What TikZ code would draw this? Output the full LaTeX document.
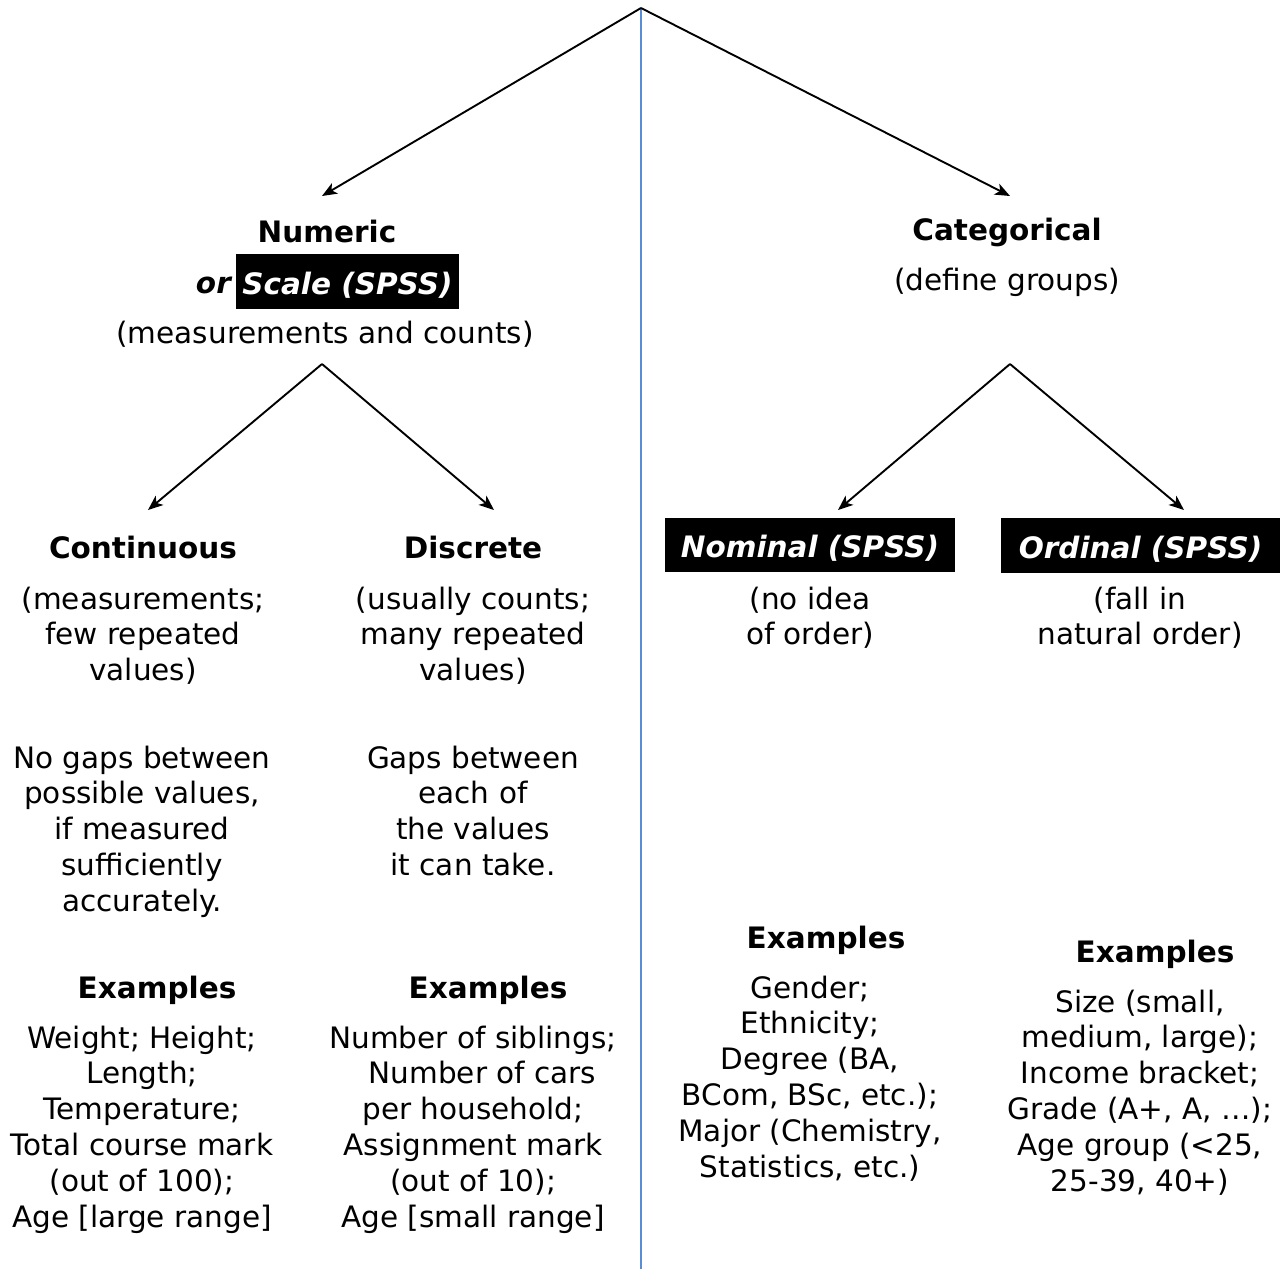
\documentclass[tikz,border=0pt]{standalone}
\usepackage{fontspec}
\setmainfont{DejaVu Sans}
\usetikzlibrary{arrows.meta}
\definecolor{divblue}{RGB}{91,141,213}
\begin{document}
\begin{tikzpicture}[x=1pt,y=-1pt,
  txt/.style={font=\fontsize{29.5}{35.8}\selectfont, align=center, inner sep=0pt, anchor=base},
  hdr/.style={txt, font=\fontsize{29.5}{35.8}\selectfont\bfseries},
  blk/.style={fill=black, text=white, inner sep=0pt, text height=29pt, text depth=3.5pt, font=\fontsize{29.5}{35.8}\selectfont\bfseries\itshape},
  arr/.style={-{Stealth[length=15pt,width=12pt,inset=4pt]}, line width=1.9pt}]
\useasboundingbox (0,0) rectangle (1284,1269);

% divider
\coordinate (top) at (641,8);
\coordinate (bottom) at (641,1269);
\draw[divblue, line width=2pt] (top) -- (bottom);

% top arrows
\coordinate (numtip) at (322,196);
\coordinate (cattip) at (1010,196);
\draw[arr] (top) -- (numtip);
\draw[arr] (top) -- (cattip);

% Numeric
\node[hdr] (numeric) at (327,242) {Numeric};
\node[blk, minimum width=223pt, minimum height=55pt] (scale) at (347.5,281.5) {Scale (SPSS)};
\node[txt, font=\fontsize{29.5}{35.8}\selectfont\bfseries\itshape, anchor=base east] (or) at (231,293) {or};
\node[txt] (meas) at (325,343) {(measurements and counts)};

% Categorical
\node[hdr] (categorical) at (1007,240) {Categorical};
\node[txt] (define) at (1007,290) {(define groups)};

% second level arrows
\coordinate (numapex) at (322,364);
\coordinate (contip) at (148,510);
\coordinate (distip) at (494,510);
\draw[arr] (numapex) -- (contip);
\draw[arr] (numapex) -- (distip);
\coordinate (catapex) at (1010,364);
\coordinate (nomtip) at (838,510);
\coordinate (ordtip) at (1184,510);
\draw[arr] (catapex) -- (nomtip);
\draw[arr] (catapex) -- (ordtip);

% level 2 headers
\node[hdr] (continuous) at (143,558) {Continuous};
\node[hdr] (discrete) at (473,558) {Discrete};
\node[blk, minimum width=290pt, minimum height=54pt] (nominal) at (810,545) {Nominal (SPSS)};
\node[blk, minimum width=279pt, minimum height=55pt] (ordinal) at (1140.5,545.5) {Ordinal (SPSS)};

% descriptions (anchor = baseline of last line)
\node[txt] (condesc) at (143,680.6) {(measurements;\\few repeated\\values)};
\node[txt] (disdesc) at (473,680.6) {(usually counts;\\many repeated\\values)};
\node[txt] (nomdesc) at (810,644.8) {(no idea\\of order)};
\node[txt] (orddesc) at (1140,644.8) {(fall in\\natural order)};

\node[txt] (congaps) at (142,911.2) {No gaps between\\possible values,\\if measured\\sufficiently\\accurately.};
\node[txt] (disgaps) at (473,875.4) {Gaps between\\each of\\the values\\it can take.};

% examples
\node[hdr] (conexh) at (157,998) {Examples};
\node[hdr] (disexh) at (488,998) {Examples};
\node[hdr] (nomexh) at (826,948) {Examples};
\node[hdr] (ordexh) at (1155,962) {Examples};

\node[txt] (conex) at (142,1227) {Weight; Height;\\Length;\\Temperature;\\Total course mark\\(out of 100);\\Age [large range]};
\node[txt] (disex) at (473,1227) {Number of siblings;\\\ \ Number of cars\\per household;\\Assignment mark\\(out of 10);\\Age [small range]};
\node[txt] (nomex) at (810,1177) {Gender;\\Ethnicity;\\Degree (BA,\\BCom, BSc, etc.);\\Major (Chemistry,\\Statistics, etc.)};
\node[txt] (ordex) at (1140,1191) {Size (small,\\medium, large);\\Income bracket;\\Grade (A+, A, …);\\Age group (<25,\\25-39, 40+)};
\end{tikzpicture}
\end{document}
